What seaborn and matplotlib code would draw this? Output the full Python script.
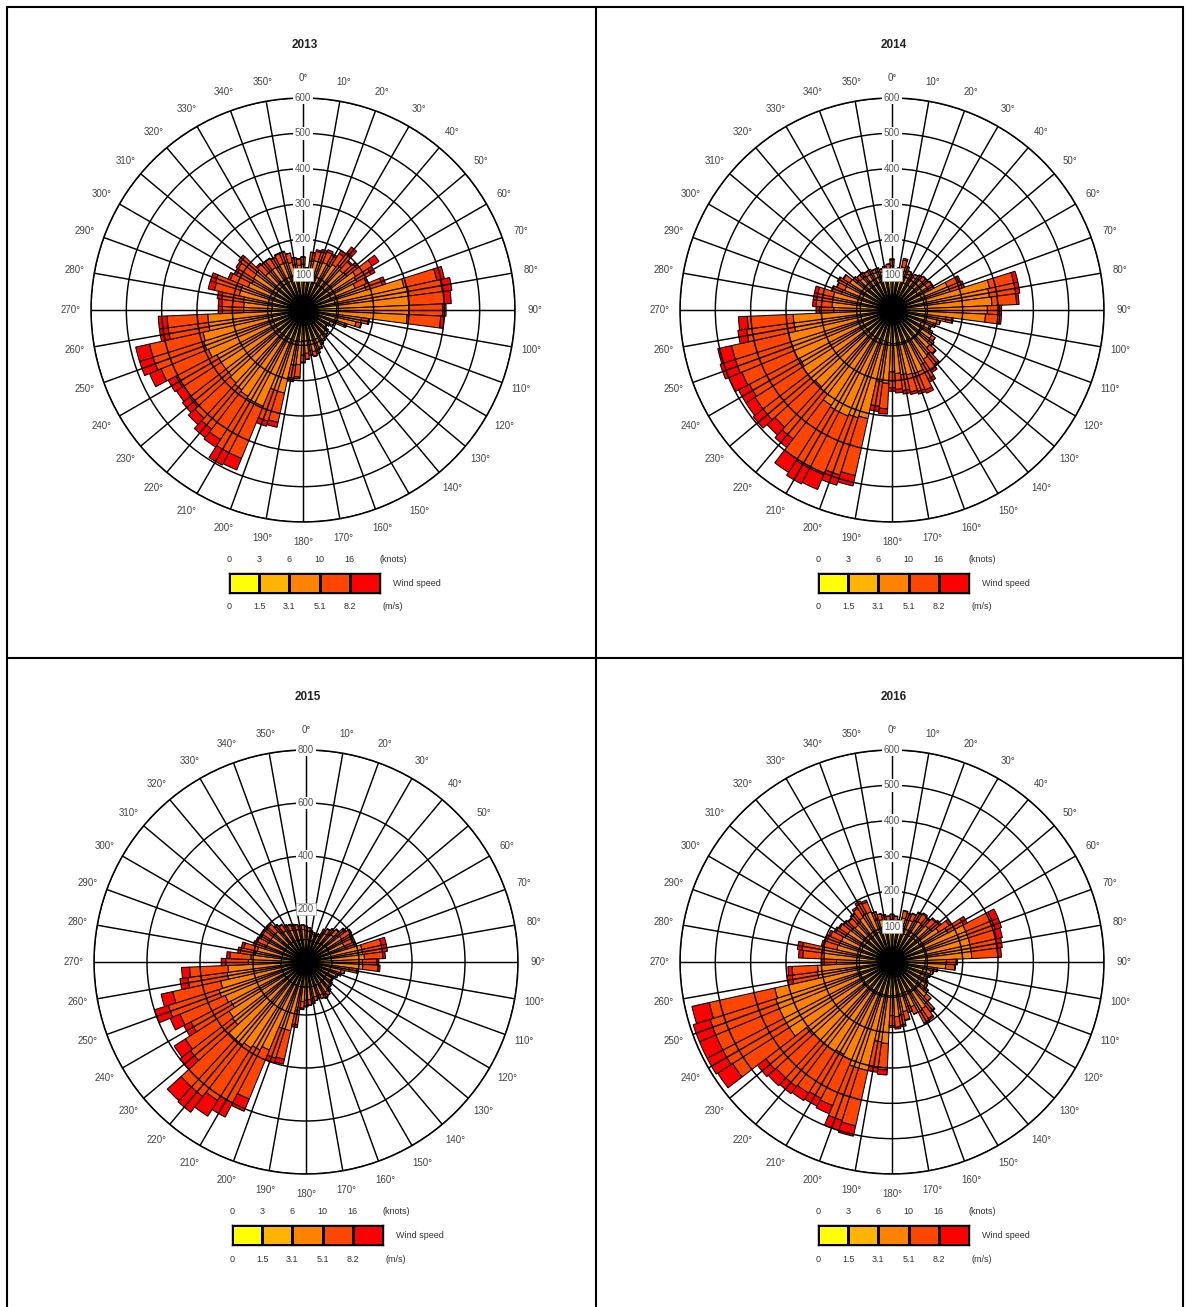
import numpy as np
import matplotlib
matplotlib.use("Agg")
import matplotlib.pyplot as plt
from matplotlib.lines import Line2D
from matplotlib.colors import ListedColormap
import seaborn as sns

# figure size in pixels
W, H = 1186, 1307

# direction bins (5 degrees, centred on 0, 5, 10, ...)
directions = list(range(0, 360, 5))
dir_labels = [f"{d}°" for d in range(0, 360, 10)]

# wind speed classes
speed_colors = ["#FFFF00", "#FFB400", "#FF8200", "#FF4600", "#FF0000"]
knots_labels = ["0", "3", "6", "10", "16"]
ms_labels = ["0", "1.5", "3.1", "5.1", "8.2"]

# ---- 2013: counts per speed class, one value per 5 degree bin ----
y2013_c1 = [40, 38, 40, 38, 36, 36, 35, 35, 35, 35, 35, 35, 35, 35, 35,
            38, 38, 40, 40, 40, 42, 42,
            45, 45, 45, 45, 45, 45, 45, 45, 45, 45, 45, 44, 42, 42,
            40, 40, 38, 36, 35, 35, 35, 35, 35, 35, 35, 35, 35, 35, 35, 35, 35, 35,
            38, 38, 38, 38, 38, 38, 38, 38, 38,
            40, 40, 40, 40, 40, 40, 40, 40, 40]
y2013_c2 = [45, 42, 45, 45, 45, 48, 45, 48, 50, 48, 50, 52, 52, 50, 52,
            55, 55, 56, 55, 55, 55, 52,
            50, 38, 35, 33, 38, 40, 42, 42, 43, 45, 45, 45, 45, 46,
            48, 50, 50, 55, 55, 55, 55, 55, 55, 55, 55, 55, 55, 55, 55, 55, 55, 55,
            50, 50, 50, 52, 52, 50, 50, 50, 50,
            48, 48, 48, 47, 48, 48, 46, 45, 45]
y2013_c3 = [45, 30, 55, 60, 62, 62, 65, 70, 75, 70, 72, 90, 85, 75, 100,
            200, 210, 205, 205, 200, 70, 60,
            30, 12, 5, 2, 7, 10, 13, 18, 20, 25, 30, 32, 30, 35,
            40, 65, 70, 150, 150, 205, 205, 200, 195, 190, 185, 185, 185, 200, 205, 200, 180, 180,
            80, 80, 82, 95, 95, 80, 75, 78, 80,
            55, 55, 55, 53, 55, 55, 52, 45, 42]
y2013_c4 = [20, 10, 25, 27, 30, 32, 30, 37, 45, 32, 35, 55, 45, 35, 48,
            95, 95, 100, 95, 95, 20, 14,
            5, 0, 0, 0, 0, 0, 0, 0, 2, 5, 10, 14, 13, 17,
            20, 35, 37, 85, 90, 160, 160, 145, 140, 135, 130, 125, 130, 145, 150, 155, 115, 115,
            60, 62, 62, 72, 75, 55, 50, 52, 55,
            32, 30, 30, 28, 30, 30, 27, 20, 18]
y2013_c5 = [0, 0, 0, 5, 7, 7, 5, 10, 20, 5, 8, 23, 13, 5, 10,
            22, 27, 19, 10, 10, 3, 2,
            0, 0, 0, 0, 0, 0, 0, 0, 0, 0, 0, 0, 0, 0,
            2, 5, 10, 14, 15, 35, 40, 25, 30, 25, 25, 25, 25, 35, 40, 40, 25, 25,
            12, 10, 13, 18, 15, 7, 7, 7, 7,
            5, 2, 2, 2, 2, 2, 0, 0, 0]

# ---- 2014 ----
y2014_c1 = [40, 40, 40, 40, 40, 40, 40, 40, 40, 40, 40, 40, 40, 38, 38,
            38, 38, 38, 40, 40, 42, 45,
            45, 45, 45, 45, 45, 45, 42, 42, 40, 40, 40, 40, 40, 40,
            40, 38, 38, 35, 35, 35, 35, 35, 35, 35, 35, 35, 35, 35, 35, 35, 35, 35,
            38, 38, 38, 38, 40, 40, 40, 40, 40,
            40, 40, 40, 40, 40, 40, 40, 40, 40]
y2014_c2 = [45, 42, 43, 45, 45, 43, 42, 43, 44, 45, 45, 45, 45, 52, 52,
            55, 55, 55, 55, 55, 52, 50,
            48, 45, 48, 50, 50, 52, 55, 55, 55, 55, 55, 55, 55, 55,
            55, 55, 55, 55, 55, 55, 55, 55, 55, 55, 55, 55, 55, 55, 55, 55, 55, 55,
            52, 52, 52, 52, 50, 50, 50, 50, 47,
            46, 46, 45, 45, 45, 45, 44, 45, 45]
y2014_c3 = [40, 25, 27, 40, 30, 27, 25, 27, 29, 30, 30, 32, 32, 80, 82,
            190, 185, 190, 175, 170, 60, 35,
            30, 25, 30, 38, 40, 48, 63, 68, 80, 95, 95, 93, 90, 85,
            80, 115, 112, 225, 230, 235, 235, 230, 210, 205, 210, 210, 205, 210, 210, 210, 190, 190,
            75, 80, 80, 80, 60, 55, 57, 52, 38,
            36, 36, 33, 33, 30, 30, 27, 30, 32]
y2014_c4 = [17, 8, 10, 20, 15, 10, 8, 10, 12, 15, 15, 16, 16, 35, 36,
            70, 75, 70, 35, 40, 18, 10,
            7, 5, 7, 12, 15, 22, 35, 38, 45, 55, 52, 50, 45, 45,
            45, 72, 70, 165, 170, 180, 180, 180, 160, 155, 160, 160, 160, 160, 165, 165, 135, 130,
            40, 45, 45, 45, 27, 23, 25, 21, 15,
            13, 13, 12, 12, 10, 10, 9, 10, 13]
y2014_c5 = [3, 0, 0, 5, 0, 0, 0, 0, 0, 0, 0, 2, 2, 5, 7,
            12, 12, 7, 5, 5, 3, 0,
            0, 0, 0, 0, 0, 3, 5, 7, 10, 10, 8, 7, 10, 10,
            10, 15, 15, 30, 30, 45, 50, 45, 30, 30, 35, 30, 35, 40, 45, 40, 25, 25,
            10, 10, 10, 10, 3, 2, 3, 2, 0,
            0, 0, 0, 0, 0, 0, 0, 0, 0]

# ---- 2015 ----
y2015_c1 = [40, 40, 40, 40, 40, 40, 40, 40, 40, 40, 40, 40, 40, 40, 40,
            38, 38, 38, 40, 40, 42, 45,
            45, 45, 45, 45, 45, 45, 45, 45, 45, 45, 45, 45, 43, 43,
            42, 42, 40, 38, 38, 35, 35, 35, 35, 35, 35, 35, 35, 35, 35, 35, 35, 35,
            38, 38, 38, 38, 40, 40, 40, 40, 40,
            40, 40, 40, 40, 40, 40, 40, 40, 40]
y2015_c2 = [45, 45, 43, 42, 40, 42, 45, 46, 48, 50, 52, 55, 55, 53, 55,
            58, 58, 58, 58, 58, 55, 50,
            50, 48, 45, 45, 46, 48, 50, 50, 52, 50, 50, 50, 52, 52,
            52, 53, 55, 58, 58, 60, 60, 60, 60, 60, 60, 60, 60, 60, 60, 60, 60, 60,
            55, 55, 55, 55, 52, 52, 52, 52, 52,
            52, 50, 50, 48, 48, 47, 46, 45, 45]
y2015_c3 = [35, 32, 27, 25, 22, 25, 38, 42, 45, 50, 60, 65, 63, 62, 63,
            120, 120, 125, 115, 117, 68, 40,
            35, 30, 25, 25, 27, 30, 35, 40, 42, 40, 37, 40, 45, 48,
            50, 55, 90, 170, 170, 265, 280, 290, 300, 300, 255, 250, 225, 235, 250, 235, 205, 200,
            125, 115, 100, 95, 70, 68, 65, 65, 65,
            65, 55, 50, 45, 43, 41, 40, 38, 38]
y2015_c4 = [15, 13, 10, 8, 8, 8, 17, 20, 24, 27, 33, 38, 35, 35, 35,
            75, 75, 70, 55, 58, 30, 15,
            10, 7, 5, 5, 7, 7, 10, 15, 16, 15, 13, 15, 18, 20,
            23, 25, 55, 110, 115, 200, 225, 235, 245, 245, 200, 195, 170, 185, 200, 185, 150, 145,
            85, 80, 57, 52, 40, 38, 36, 36, 36,
            36, 30, 27, 24, 22, 20, 19, 17, 17]
y2015_c5 = [0, 0, 0, 0, 0, 0, 0, 2, 3, 3, 5, 7, 7, 5, 7,
            19, 19, 9, 7, 7, 5, 0,
            0, 0, 0, 0, 0, 0, 0, 0, 0, 0, 0, 0, 2, 2,
            3, 5, 10, 19, 19, 50, 60, 70, 75, 70, 50, 50, 30, 40, 55, 45, 30, 30,
            17, 12, 10, 10, 8, 7, 7, 7, 7,
            7, 5, 3, 3, 2, 2, 0, 0, 0]

# ---- 2016 ----
y2016_c1 = [40, 40, 40, 40, 40, 40, 40, 40, 40, 40, 40, 40, 38, 38, 38,
            38, 38, 38, 42, 42, 45, 45,
            45, 45, 45, 45, 45, 45, 43, 42, 42, 43, 43, 42, 42, 42,
            42, 38, 38, 35, 35, 35, 35, 35, 35, 35, 35, 35, 35, 35, 35, 35, 38, 38,
            40, 38, 38, 40, 40, 40, 40, 40, 40,
            40, 40, 40, 40, 40, 40, 40, 40, 40]
y2016_c2 = [45, 45, 43, 46, 46, 46, 48, 48, 48, 50, 50, 52, 55, 58, 58,
            58, 58, 58, 52, 52, 48, 45,
            44, 43, 44, 45, 48, 50, 52, 53, 53, 50, 50, 52, 53, 53,
            53, 58, 58, 60, 60, 60, 60, 60, 60, 60, 60, 60, 60, 60, 60, 60, 55, 55,
            52, 55, 55, 52, 52, 52, 50, 50, 50,
            50, 50, 50, 52, 52, 46, 45, 45, 45]
y2016_c3 = [35, 32, 27, 42, 40, 42, 45, 48, 45, 50, 52, 65, 85, 130, 130,
            130, 130, 130, 60, 58, 27, 23,
            21, 18, 21, 23, 27, 38, 55, 62, 65, 45, 40, 50, 57, 60,
            57, 135, 132, 220, 220, 205, 200, 205, 205, 205, 210, 250, 250, 250, 250, 245, 120, 118,
            65, 100, 102, 68, 65, 63, 60, 58, 55,
            52, 55, 60, 63, 62, 42, 38, 35, 32]
y2016_c4 = [15, 13, 10, 20, 19, 20, 24, 25, 24, 26, 28, 35, 50, 80, 80,
            77, 75, 74, 28, 26, 10, 7,
            5, 4, 5, 7, 10, 17, 27, 33, 35, 22, 17, 24, 28, 30,
            28, 75, 74, 160, 155, 140, 140, 140, 145, 145, 145, 190, 195, 195, 195, 190, 72, 72,
            35, 60, 62, 37, 36, 34, 30, 28, 27,
            25, 27, 30, 33, 30, 20, 17, 15, 13]
y2016_c5 = [0, 0, 0, 2, 0, 2, 3, 4, 3, 4, 5, 8, 12, 19, 19,
            17, 14, 10, 3, 2, 0, 0,
            0, 0, 0, 0, 0, 0, 3, 5, 5, 0, 0, 2, 5, 5,
            5, 14, 13, 30, 30, 25, 25, 25, 25, 30, 30, 50, 50, 50, 50, 50, 15, 12,
            8, 12, 13, 8, 7, 6, 5, 4, 3,
            3, 3, 5, 7, 6, 2, 0, 0, 0]

# radial rings for each rose
rings_2013 = [100, 200, 300, 400, 500, 600]
rings_2014 = [100, 200, 300, 400, 500, 600]
rings_2015 = [200, 400, 600, 800]
rings_2016 = [100, 200, 300, 400, 500, 600]

sns.set_style("white")
plt.rcParams["font.family"] = ["Liberation Sans", "DejaVu Sans"]

fig = plt.figure(figsize=(W / 100, H / 100), dpi=100)

R = 212  # radius of the outer circle in pixels


def draw_rose(year, cx, cy, rings, classes):
    rmax = rings[-1]
    ax = fig.add_axes([(cx - R) / W, 1 - (cy + R) / H, 2 * R / W, 2 * R / H],
                      projection="polar")
    ax.set_theta_zero_location("N")
    ax.set_theta_direction(-1)
    theta = np.deg2rad(directions)
    bottom = np.zeros(len(directions))
    for counts, col in zip(classes, speed_colors):
        counts = np.array(counts, dtype=float)
        ax.bar(theta, counts, width=np.deg2rad(5), bottom=bottom, color=col,
               edgecolor="black", linewidth=0.75, align="center", zorder=1)
        bottom = bottom + counts
    ax.set_ylim(0, rmax)
    ax.set_xticks(np.deg2rad(np.arange(0, 360, 10)))
    ax.set_xticklabels([])
    ax.set_yticks(rings)
    ax.set_yticklabels([])
    ax.set_axisbelow(False)
    ax.grid(True, color="black", linewidth=1.05)
    ax.spines["polar"].set_color("black")
    ax.spines["polar"].set_linewidth(1.1)
    # compass labels
    for d, lab in zip(range(0, 360, 10), dir_labels):
        ax.text(np.deg2rad(d), rmax * 232 / R, lab, ha="center", va="center",
                fontsize=7, color="#444444", clip_on=False)
    # ring labels on the north spoke
    for i, v in enumerate(rings):
        ax.text(0, v, str(v), ha="center", va="center", fontsize=7, color="#555555",
                zorder=6,
                bbox=dict(boxstyle="square,pad=0.15", fc="white",
                          ec="#aaaaaa" if i == 0 else "none", lw=0.5))
    # title
    fig.text((cx + 2) / W, 1 - (cy - 265) / H, year, ha="center", va="center",
             fontsize=8.5, fontweight="bold", color="#222222")

    # legend bar
    lx0, lx1 = cx - 74, cx + 77
    ly0, ly1 = cy + 263, cy + 283
    lax = fig.add_axes([lx0 / W, 1 - ly1 / H, (lx1 - lx0) / W, (ly1 - ly0) / H])
    sns.heatmap(np.arange(5).reshape(1, 5), cmap=ListedColormap(speed_colors),
                cbar=False, linewidths=1, linecolor="black", ax=lax,
                xticklabels=False, yticklabels=False)
    for s in lax.spines.values():
        s.set_visible(True)
        s.set_color("black")
        s.set_linewidth(1)
    step = (lx1 - lx0) / 5
    for i in range(5):
        x = lx0 + i * step
        fig.text(x / W, 1 - (cy + 250) / H, knots_labels[i], ha="center", va="center",
                 fontsize=6.5, color="#333333")
        fig.text(x / W, 1 - (cy + 297) / H, ms_labels[i], ha="center", va="center",
                 fontsize=6.5, color="#333333")
    fig.text((cx + 90) / W, 1 - (cy + 250) / H, "(knots)", ha="center", va="center",
             fontsize=6.5, color="#333333")
    fig.text((cx + 90) / W, 1 - (cy + 297) / H, "(m/s)", ha="center", va="center",
             fontsize=6.5, color="#333333")
    fig.text((cx + 90) / W, 1 - (cy + 273) / H, "Wind speed", ha="left", va="center",
             fontsize=6.5, color="#333333")


draw_rose("2013", 303, 310, rings_2013, [y2013_c1, y2013_c2, y2013_c3, y2013_c4, y2013_c5])
draw_rose("2014", 892, 310, rings_2014, [y2014_c1, y2014_c2, y2014_c3, y2014_c4, y2014_c5])
draw_rose("2015", 306, 962, rings_2015, [y2015_c1, y2015_c2, y2015_c3, y2015_c4, y2015_c5])
draw_rose("2016", 892, 962, rings_2016, [y2016_c1, y2016_c2, y2016_c3, y2016_c4, y2016_c5])

# table borders
border = dict(color="black", linewidth=1.5, transform=fig.transFigure)
for x in [7, 596, 1183]:
    fig.add_artist(Line2D([x / W, x / W], [1 - 7 / H, 0], **border))
for y in [7, 658]:
    fig.add_artist(Line2D([7 / W, 1183 / W], [1 - y / H, 1 - y / H], **border))

fig.savefig("out.png", dpi=100, facecolor="white")
